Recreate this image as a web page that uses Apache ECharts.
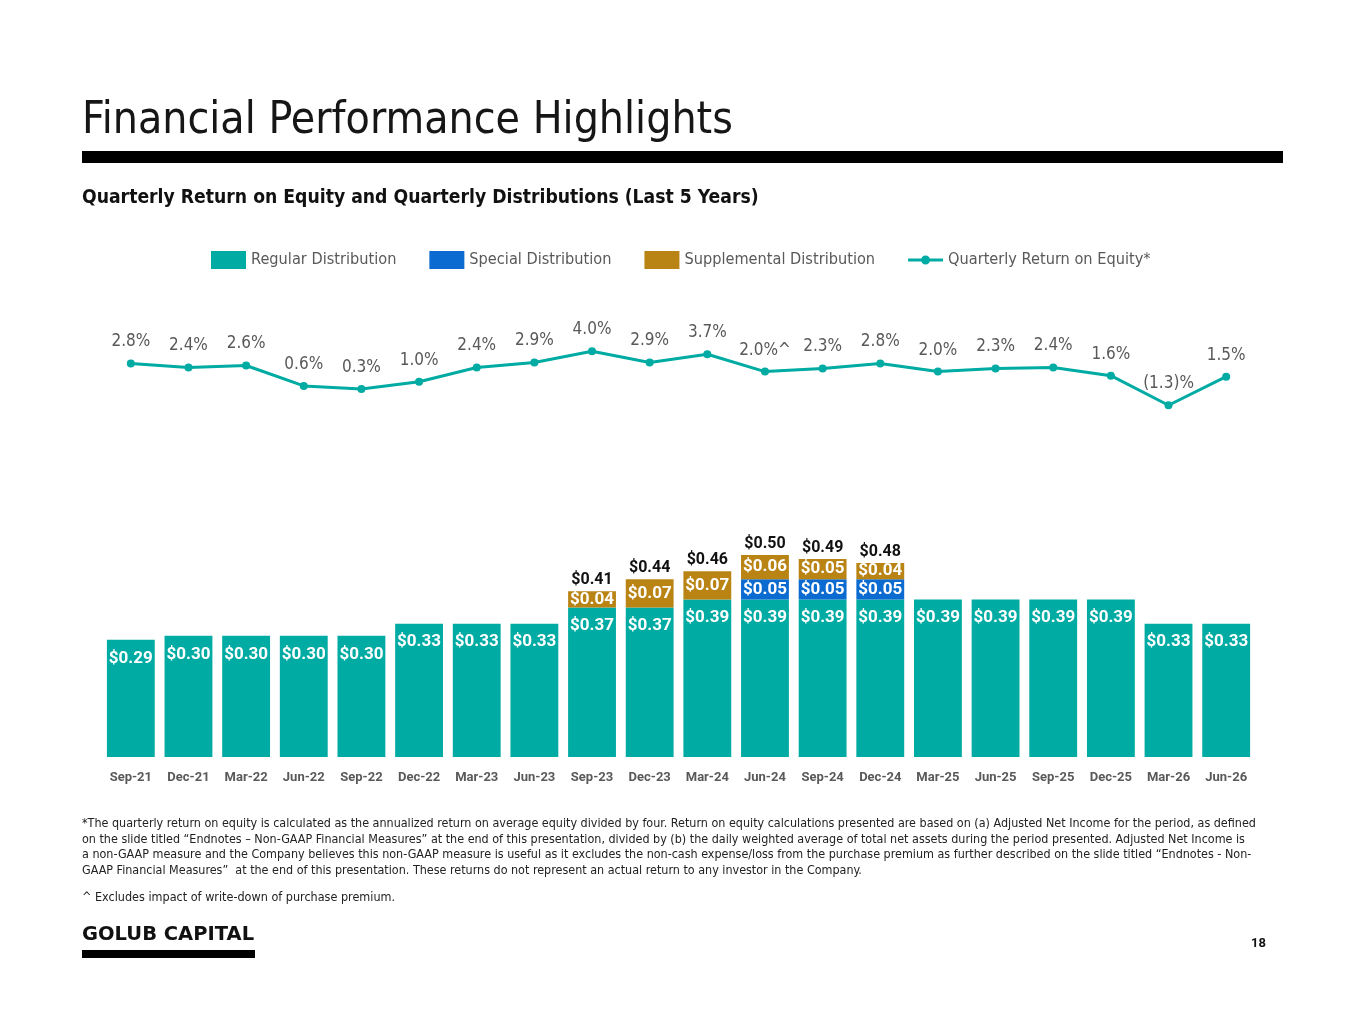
<!DOCTYPE html>
<html>
<head>
<meta charset="utf-8">
<script src="https://cdn.jsdelivr.net/npm/echarts@6/dist/echarts.min.js"></script>
<style>
html,body{margin:0;padding:0;background:#fff;}
#chart{width:1365px;height:1024px;}
</style>
</head>
<body>
<div id="chart"></div>
<script>
const categories = ['Sep-21','Dec-21','Mar-22','Jun-22','Sep-22','Dec-22','Mar-23','Jun-23','Sep-23','Dec-23','Mar-24','Jun-24','Sep-24','Dec-24','Mar-25','Jun-25','Sep-25','Dec-25','Mar-26','Jun-26'];
const regular = [0.29,0.30,0.30,0.30,0.30,0.33,0.33,0.33,0.37,0.37,0.39,0.39,0.39,0.39,0.39,0.39,0.39,0.39,0.33,0.33];
const special = [null,null,null,null,null,null,null,null,null,null,null,0.05,0.05,0.05,null,null,null,null,null,null];
const supplemental = [null,null,null,null,null,null,null,null,0.04,0.07,0.07,0.06,0.05,0.04,null,null,null,null,null,null];
const roe = [2.8,2.4,2.6,0.6,0.3,1.0,2.4,2.9,4.0,2.9,3.7,2.0,2.3,2.8,2.0,2.3,2.4,1.6,-1.3,1.5];
const roeNote = ['','','','','','','','','','','','^','','','','','','','',''];

const totals = regular.map((r,i) => (special[i]!=null || supplemental[i]!=null) ? +(r + (special[i]||0) + (supplemental[i]||0)).toFixed(2) : null);

const NARROW = '"Liberation Sans Narrow", "DejaVu Sans Condensed", Roboto, sans-serif';
const SANS = 'Roboto, "Liberation Sans", sans-serif';
const TEAL = '#00ABA3';
const BLUE = '#0B6BD1';
const GOLD = '#B98414';

const money = v => '$' + Number(v).toFixed(2);

const footLines = [
 '*The quarterly return on equity is calculated as the annualized return on average equity divided by four. Return on equity calculations presented are based on (a) Adjusted Net Income for the period, as defined',
 'on the slide titled \u201cEndnotes \u2013 Non-GAAP Financial Measures\u201d at the end of this presentation, divided by (b) the daily weighted average of total net assets during the period presented. Adjusted Net Income is',
 'a non-GAAP measure and the Company believes this non-GAAP measure is useful as it excludes the non-cash expense/loss from the purchase premium as further described on the slide titled \u201cEndnotes - Non-',
 'GAAP Financial Measures\u201d  at the end of this presentation. These returns do not represent an actual return to any investor in the Company.'
];

const chart = echarts.init(document.getElementById('chart'), null, {renderer:'canvas'});

const graphics = [
  {type:'text', left:82, top:100, style:{text:'Financial Performance Highlights', font:'400 44.2px ' + NARROW, fill:'#161616'}},
  {type:'rect', shape:{x:82, y:151, width:1201, height:12}, style:{fill:'#000'}},
  {type:'text', left:82, top:189, style:{text:'Quarterly Return on Equity and Quarterly Distributions (Last 5 Years)', font:'700 19.2px ' + NARROW, fill:'#111'}},
  {type:'text', left:82, top:925, style:{text:'GOLUB CAPITAL', font:'700 19.5px "DejaVu Sans", sans-serif', fill:'#111'}},
  {type:'rect', shape:{x:82, y:950, width:173, height:8}, style:{fill:'#000'}},
  {type:'text', left:1251, top:937, style:{text:'18', font:'700 13px ' + SANS, fill:'#111'}},
  {type:'text', left:82, top:891, style:{text:'^ Excludes impact of write-down of purchase premium.', font:'400 12.5px ' + NARROW, fill:'#222'}}
];
footLines.forEach((t,i) => graphics.push({type:'text', left:82, top:818 + i*15.5, style:{text:t, font:'400 12.45px ' + NARROW, fill:'#222'}}));

const lineIcon = 'path://M0,7.5 L35,7.5 L35,10.5 L0,10.5 Z M13,9 A4.5,4.5 0 1,1 22,9 A4.5,4.5 0 1,1 13,9 Z';

const option = {
  animation:false,
  backgroundColor:'#fff',
  graphic: graphics,
  legend: {
    top:251, left:211, padding:0, itemWidth:35, itemHeight:18, itemGap:33,
    textStyle:{fontFamily:NARROW, fontSize:16.2, color:'#595959'},
    data:[
      {name:'Regular Distribution', icon:'rect'},
      {name:'Special Distribution', icon:'rect'},
      {name:'Supplemental Distribution', icon:'rect'},
      {name:'Quarterly Return on Equity*', icon:lineIcon}
    ]
  },
  grid:[
    {left:102, right:110, top:341, height:71.4},
    {left:102, right:110, top:555, bottom:267}
  ],
  xAxis:[
    {type:'category', gridIndex:0, data:categories, show:false, boundaryGap:true},
    {type:'category', gridIndex:1, data:categories, axisLine:{show:false}, axisTick:{show:false},
     axisLabel:{color:'#595959', fontFamily:SANS, fontWeight:700, fontSize:13, margin:14, interval:0}}
  ],
  yAxis:[
    {type:'value', gridIndex:0, min:-2, max:5, show:false},
    {type:'value', gridIndex:1, min:0, max:0.5, show:false}
  ],
  series:[
    {name:'Quarterly Return on Equity*', type:'line', xAxisIndex:0, yAxisIndex:0, data:roe,
     color:TEAL, lineStyle:{width:3, color:TEAL}, symbol:'circle', symbolSize:8, itemStyle:{color:TEAL},
     label:{show:true, position:'top', distance:9, color:'#595959', fontFamily:NARROW, fontSize:17,
       formatter:p => (p.value < 0 ? '(' + Math.abs(p.value).toFixed(1) + ')%' : p.value.toFixed(1) + '%') + roeNote[p.dataIndex]}},
    {name:'Regular Distribution', type:'bar', xAxisIndex:1, yAxisIndex:1, stack:'d', data:regular, barCategoryGap:'17%',
     itemStyle:{color:TEAL},
     label:{show:true, position:'insideTop', distance:10, color:'#fff', fontFamily:SANS, fontWeight:700, fontSize:17, formatter:p => money(p.value)}},
    {name:'Special Distribution', type:'bar', xAxisIndex:1, yAxisIndex:1, stack:'d', data:special,
     itemStyle:{color:BLUE},
     label:{show:true, position:'inside', color:'#fff', fontFamily:SANS, fontWeight:700, fontSize:17, formatter:p => money(p.value)}},
    {name:'Supplemental Distribution', type:'bar', xAxisIndex:1, yAxisIndex:1, stack:'d', data:supplemental,
     itemStyle:{color:GOLD},
     label:{show:true, position:'inside', color:'#fff', fontFamily:SANS, fontWeight:700, fontSize:17, formatter:p => money(p.value)}},
    {name:'Total', type:'bar', xAxisIndex:1, yAxisIndex:1, data:totals, barGap:'-100%', z:1, silent:true,
     itemStyle:{color:'rgba(0,0,0,0)'},
     label:{show:true, position:'top', distance:3, color:'#111', fontFamily:SANS, fontWeight:700, fontSize:16, formatter:p => money(p.value)}}
  ]
};
chart.setOption(option);
</script>
</body>
</html>
